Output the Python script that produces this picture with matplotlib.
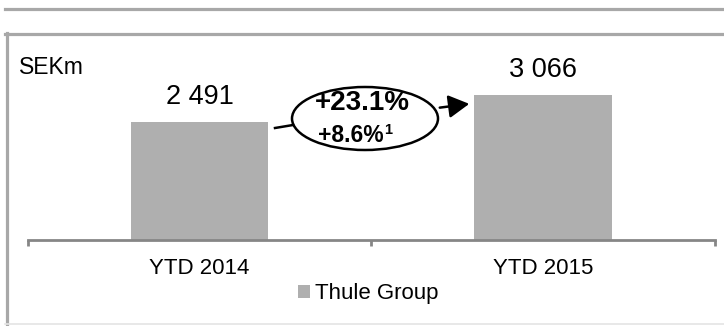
import matplotlib
matplotlib.use("Agg")
import matplotlib.pyplot as plt
from matplotlib.patches import Ellipse, Patch, FancyArrowPatch
from matplotlib.lines import Line2D

plt.rcParams['font.family'] = ['Liberation Sans', 'DejaVu Sans']

categories = ["YTD 2014", "YTD 2015"]
values = [2491, 3066]
value_labels = ["2 491", "3 066"]
series_name = "Thule Group"
unit_label = "SEKm"
growth_main = "+23.1%"
growth_sub = "+8.6%"
growth_sup = "1"

W, H = 724, 326
fig = plt.figure(figsize=(W / 100, H / 100), dpi=100)

def fx(px):
    return px / W

def fy(py):
    return 1 - py / H

BAR = "#afafaf"
AXC = "#868686"

ax = fig.add_axes([fx(27.75), fy(239.5), fx(714.75) - fx(27.75), fy(51.5) - fy(239.5)])
x = list(range(len(categories)))
bars = ax.bar(x, values, width=0.4, color=BAR, zorder=2)
ax.set_xlim(-0.5, 1.5)
ax.set_ylim(0, 4000)
for s in ["top", "right", "left"]:
    ax.spines[s].set_visible(False)
ax.spines["bottom"].set_color(AXC)
ax.spines["bottom"].set_linewidth(2)
ax.set_yticks([])
ax.set_xticks(x)
ax.set_xticklabels(categories, fontsize=16)
ax.tick_params(axis="x", which="major", length=0, pad=13)
ax.set_xticks([-0.5, 0.5, 1.5], minor=True)
ax.tick_params(axis="x", which="minor", length=4.5, width=2, color=AXC, direction="out")

for xi, v, lab in zip(x, values, value_labels):
    ax.annotate(lab, (xi, v), xytext=(0, 13), textcoords="offset points",
                ha="center", va="baseline", fontsize=19.5)

# unit label
fig.text(fx(19), fy(74), unit_label, fontsize=16.5, ha="left", va="baseline")

# frame decorations
fig.add_artist(Line2D([fx(5), fx(724)], [fy(8.5), fy(8.5)], color="#a8a8a8", lw=2.3))
fig.add_artist(Line2D([fx(5), fx(724)], [fy(33.5), fy(33.5)], color="#a8a8a8", lw=2.3))
fig.add_artist(Line2D([fx(6.5), fx(6.5)], [fy(32.5), fy(324)], color="#a8a8a8", lw=2.3))
fig.add_artist(Line2D([fx(5), fx(724)], [fy(324), fy(324)], color="#e4e4e4", lw=1.2))

# growth ellipse and arrow
ell = Ellipse((fx(365), fy(118.5)), width=146 / W, height=63 / H,
              transform=fig.transFigure, facecolor="white", edgecolor="black", lw=1.8)
fig.add_artist(ell)
fig.add_artist(Line2D([fx(275), fx(293)], [fy(128), fy(125)], color="black", lw=1.8))
arr = FancyArrowPatch((fx(437), fy(108)), (fx(472), fy(103.5)),
                      transform=fig.transFigure, arrowstyle="-|>,head_length=0.9,head_width=0.5",
                      mutation_scale=14, color="black", lw=1.8)
fig.add_artist(arr)
fig.text(fx(362), fy(110), growth_main, fontsize=20, fontweight="bold", ha="center", va="baseline")
t_sub = fig.text(fx(351), fy(142.5), growth_sub, fontsize=16.5, fontweight="bold",
                 ha="center", va="baseline")
fig.add_artist(plt.Annotation(growth_sup, xy=(1, 0), xycoords=t_sub, xytext=(0.5, 10),
                              textcoords="offset points", fontsize=10.5, fontweight="bold",
                              ha="left", va="baseline"))

# legend
fig.legend(handles=[Patch(facecolor=BAR, edgecolor="none", label=series_name)],
           loc="center", bbox_to_anchor=(fx(368), fy(294)), frameon=False,
           fontsize=16, handlelength=0.55, handleheight=0.55, handletextpad=0.2,
           borderpad=0, borderaxespad=0)

fig.savefig("out.png", dpi=100)
